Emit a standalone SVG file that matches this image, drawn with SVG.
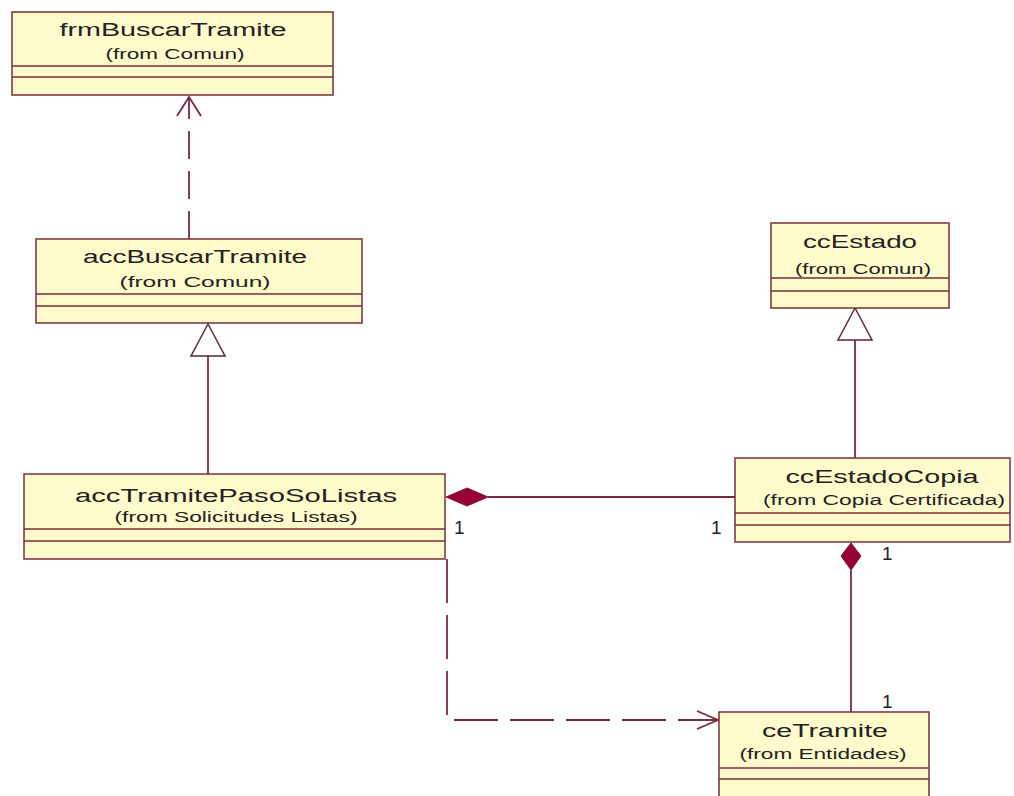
<svg xmlns="http://www.w3.org/2000/svg" width="1014" height="796" viewBox="0 0 1014 796">
  <style>
    .box { fill: #FFFBCC; stroke: #7a2e36; stroke-width: 1.5; }
    .div { stroke: #7a2e36; stroke-width: 1.5; }
    .name { font-family: "Liberation Sans", Arial, sans-serif; font-size: 18px; fill: #222; text-anchor: middle; }
    .from { font-family: "Liberation Sans", Arial, sans-serif; font-size: 14px; fill: #222; text-anchor: middle; }
    .mult { font-family: "Liberation Sans", Arial, sans-serif; font-size: 19px; fill: #222; }
    .line { fill: none; stroke: #7a2a40; stroke-width: 1.8; }
    .dash { fill: none; stroke: #7a2a40; stroke-width: 1.8; stroke-dasharray: 28 12; }
    .dashh { fill: none; stroke: #7a2a40; stroke-width: 1.8; stroke-dasharray: 44 12; }
    .tri { fill: #ffffff; stroke: #5a2a30; stroke-width: 1.5; }
    .dia { fill: #990033; stroke: #7a1a30; stroke-width: 1; }
  </style>
  <rect width="1014" height="796" fill="#ffffff"/>

  <!-- connectors -->
  <g id="connectors">
    <!-- accBuscarTramite depends on frmBuscarTramite -->
    <line class="dash" x1="189" y1="239" x2="189" y2="97"/>
    <polyline class="line" points="177,116 189,97 201,116"/>

    <!-- accTramitePasoSoListas generalizes accBuscarTramite -->
    <line class="line" x1="208" y1="474" x2="208" y2="356"/>
    <polygon class="tri" points="208,324 191,356 225,356"/>

    <!-- ccEstadoCopia generalizes ccEstado -->
    <line class="line" x1="855" y1="458" x2="855" y2="340"/>
    <polygon class="tri" points="855,308 838,340 872,340"/>

    <!-- composition accTramitePasoSoListas <> ccEstadoCopia -->
    <line class="line" x1="488" y1="497" x2="735" y2="497"/>
    <polygon class="dia" points="446,497 467,488 488,497 467,506"/>

    <!-- composition ccEstadoCopia <> ceTramite -->
    <line class="line" x1="851" y1="570" x2="851" y2="712"/>
    <polygon class="dia" points="851,543 861,556 851,570 841,556"/>

    <!-- accTramitePasoSoListas depends on ceTramite -->
    <polyline class="dashh" points="447,559 447,720 716,720"/>
    <polyline class="line" points="697,711 718,720 697,729"/>

    <!-- multiplicities -->
    <text class="mult" x="454" y="534">1</text>
    <text class="mult" x="711" y="534">1</text>
    <text class="mult" x="882" y="560">1</text>
    <text class="mult" x="882" y="708">1</text>
  </g>

  <g id="frmBuscarTramite">
    <rect class="box" x="12" y="12" width="321" height="83"/>
    <line class="div" x1="12" y1="66" x2="333" y2="66"/>
    <line class="div" x1="12" y1="77" x2="333" y2="77"/>
    <text class="name" x="173" y="36" textLength="227" lengthAdjust="spacingAndGlyphs">frmBuscarTramite</text>
    <text class="from" x="175" y="59" textLength="139" lengthAdjust="spacingAndGlyphs">(from Comun)</text>
  </g>

  <g id="accBuscarTramite">
    <rect class="box" x="36" y="239" width="326" height="84"/>
    <line class="div" x1="36" y1="294" x2="362" y2="294"/>
    <line class="div" x1="36" y1="306" x2="362" y2="306"/>
    <text class="name" x="195" y="263" textLength="224" lengthAdjust="spacingAndGlyphs">accBuscarTramite</text>
    <text class="from" x="195" y="287" textLength="151" lengthAdjust="spacingAndGlyphs">(from Comun)</text>
  </g>

  <g id="ccEstado">
    <rect class="box" x="771" y="223" width="178" height="85"/>
    <line class="div" x1="771" y1="278" x2="949" y2="278"/>
    <line class="div" x1="771" y1="291" x2="949" y2="291"/>
    <text class="name" x="860" y="248" textLength="114" lengthAdjust="spacingAndGlyphs">ccEstado</text>
    <text class="from" x="863" y="274" textLength="136" lengthAdjust="spacingAndGlyphs">(from Comun)</text>
  </g>

  <g id="accTramitePasoSoListas">
    <rect class="box" x="24" y="474" width="421" height="85"/>
    <line class="div" x1="24" y1="529" x2="445" y2="529"/>
    <line class="div" x1="24" y1="541" x2="445" y2="541"/>
    <text class="name" x="236" y="502" textLength="322" lengthAdjust="spacingAndGlyphs">accTramitePasoSoListas</text>
    <text class="from" x="236" y="522" textLength="243" lengthAdjust="spacingAndGlyphs">(from Solicitudes Listas)</text>
  </g>

  <g id="ccEstadoCopia">
    <rect class="box" x="735" y="458" width="275" height="84"/>
    <line class="div" x1="735" y1="513" x2="1010" y2="513"/>
    <line class="div" x1="735" y1="525" x2="1010" y2="525"/>
    <text class="name" x="882" y="483" textLength="193" lengthAdjust="spacingAndGlyphs">ccEstadoCopia</text>
    <text class="from" x="884" y="505" textLength="242" lengthAdjust="spacingAndGlyphs">(from Copia Certificada)</text>
  </g>

  <g id="ceTramite">
    <rect class="box" x="719" y="712" width="210" height="100"/>
    <line class="div" x1="719" y1="768" x2="929" y2="768"/>
    <line class="div" x1="719" y1="779" x2="929" y2="779"/>
    <text class="name" x="825" y="737" textLength="126" lengthAdjust="spacingAndGlyphs">ceTramite</text>
    <text class="from" x="823" y="759" textLength="167" lengthAdjust="spacingAndGlyphs">(from Entidades)</text>
  </g>
</svg>
